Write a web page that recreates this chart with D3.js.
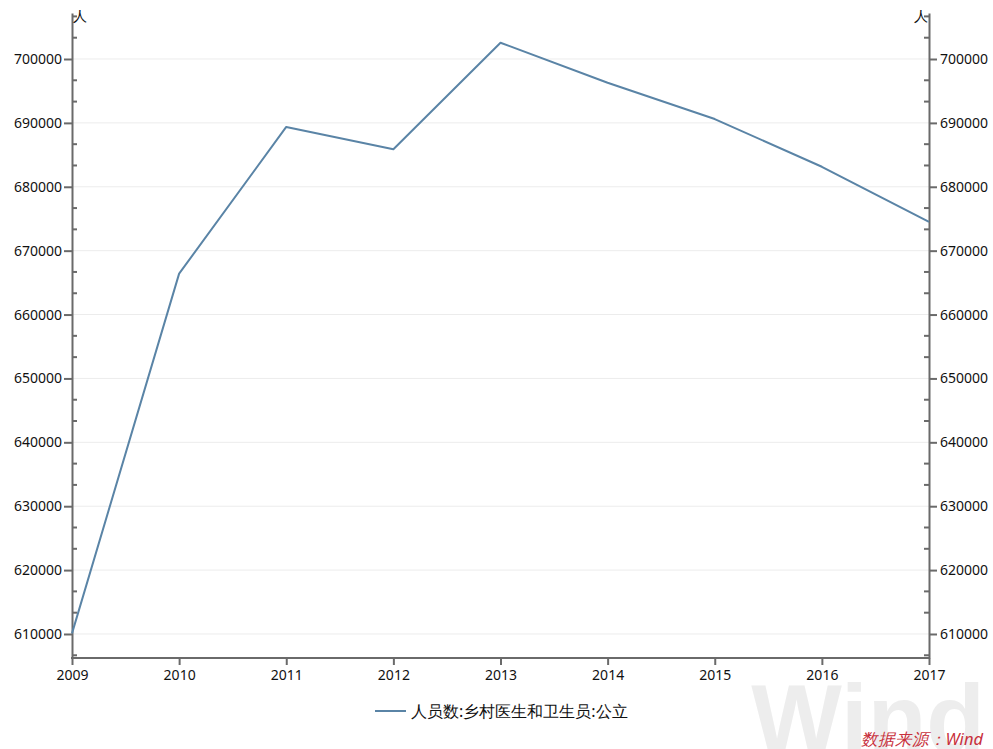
<!DOCTYPE html>
<html><head><meta charset="utf-8">
<script src="https://cdn.jsdelivr.net/npm/d3@7"></script>
<style>body{margin:0;background:#fff;} svg{display:block;}</style>
</head><body>
<svg id="c" width="993" height="749"></svg>
<script>
const years = [2009, 2010, 2011, 2012, 2013, 2014, 2015, 2016, 2017];
const values = [610100, 666400, 689370, 685880, 702550, 696290, 690600, 683130, 674520];
const yTicks = [610000, 620000, 630000, 640000, 650000, 660000, 670000, 680000, 690000, 700000];
const seriesName = "人员数:乡村医生和卫生员:公立";
const unitLabel = "人";
const sourceText = "数据来源：Wind";

const svg = d3.select("#c");
const L = 72, R = 929, T = 13, B = 658;
const x = d3.scaleLinear().domain([2009, 2017]).range([L, R]);
const y = d3.scaleLinear().domain([606240, 707200]).range([B, T]);
const font = "'Noto Sans','DejaVu Sans',sans-serif";
const axisColor = "#6a6a6a";

// watermark
svg.append("text").attr("x", 985).attr("y", 752).attr("text-anchor", "end")
  .attr("font-family", "'Liberation Sans',Arial,sans-serif").attr("font-weight", "bold")
  .attr("font-size", 96).attr("fill", "#ededed").text("Wind");

// gridlines
svg.append("g").selectAll("line").data(yTicks).join("line")
  .attr("x1", L).attr("x2", R).attr("y1", d => y(d)).attr("y2", d => y(d))
  .attr("stroke", "#ececec").attr("stroke-width", 1);

// minor ticks
const minor = d3.range(0, 40).map(i => 603333.333 + i * 10000 / 3)
  .filter(v => v > y.domain()[0] && v < y.domain()[1] && Math.abs(v / 10000 - Math.round(v / 10000)) > 0.01);

function axisStyle(g) {
  g.select(".domain").attr("stroke", axisColor).attr("stroke-width", 2);
  g.selectAll(".tick line").attr("stroke", axisColor).attr("stroke-width", 2);
  g.selectAll(".tick text").attr("fill", "#111").attr("font-size", 14).attr("font-family", font);
}

const yl = svg.append("g").attr("transform", `translate(${L},0)`)
  .call(d3.axisLeft(y).tickValues(yTicks).tickSize(8).tickSizeOuter(0).tickPadding(2).tickFormat(d3.format("d")));
axisStyle(yl);
const yr = svg.append("g").attr("transform", `translate(${R},0)`)
  .call(d3.axisRight(y).tickValues(yTicks).tickSize(8).tickSizeOuter(0).tickPadding(3).tickFormat(d3.format("d")));
axisStyle(yr);

svg.append("g").selectAll("line").data(minor).join("line")
  .attr("x1", L).attr("x2", L + 5).attr("y1", d => y(d)).attr("y2", d => y(d))
  .attr("stroke", axisColor).attr("stroke-width", 2);
svg.append("g").selectAll("line").data(minor).join("line")
  .attr("x1", R - 5).attr("x2", R).attr("y1", d => y(d)).attr("y2", d => y(d))
  .attr("stroke", axisColor).attr("stroke-width", 2);

const xa = svg.append("g").attr("transform", `translate(0,${B})`)
  .call(d3.axisBottom(x).tickValues(years).tickSize(7).tickSizeOuter(0).tickPadding(5).tickFormat(d3.format("d")));
axisStyle(xa);
xa.select(".domain").attr("d", `M${L - 1},0H${R + 1}`);

// unit labels
svg.append("text").attr("x", L + 1).attr("y", 21).attr("font-family", font).attr("font-size", 14)
  .attr("fill", "#111").text(unitLabel);
svg.append("text").attr("x", R - 1).attr("y", 21).attr("text-anchor", "end").attr("font-family", font)
  .attr("font-size", 14).attr("fill", "#111").text(unitLabel);

// line
const line = d3.line().x((d, i) => x(years[i])).y(d => y(d));
svg.append("path").datum(values).attr("d", line).attr("fill", "none")
  .attr("stroke", "#5a84a6").attr("stroke-width", 2).attr("stroke-linejoin", "round");

// legend
svg.append("line").attr("x1", 375).attr("x2", 406).attr("y1", 711).attr("y2", 711)
  .attr("stroke", "#5a84a6").attr("stroke-width", 2);
svg.append("text").attr("x", 411).attr("y", 717).attr("font-family", font).attr("font-size", 16)
  .attr("fill", "#111").text(seriesName);

// source
svg.append("text").attr("x", 983).attr("y", 745).attr("text-anchor", "end").attr("font-family", font)
  .attr("font-style", "italic").attr("font-size", 16.5).attr("fill", "#c8303c").text(sourceText);
</script>
</body></html>
